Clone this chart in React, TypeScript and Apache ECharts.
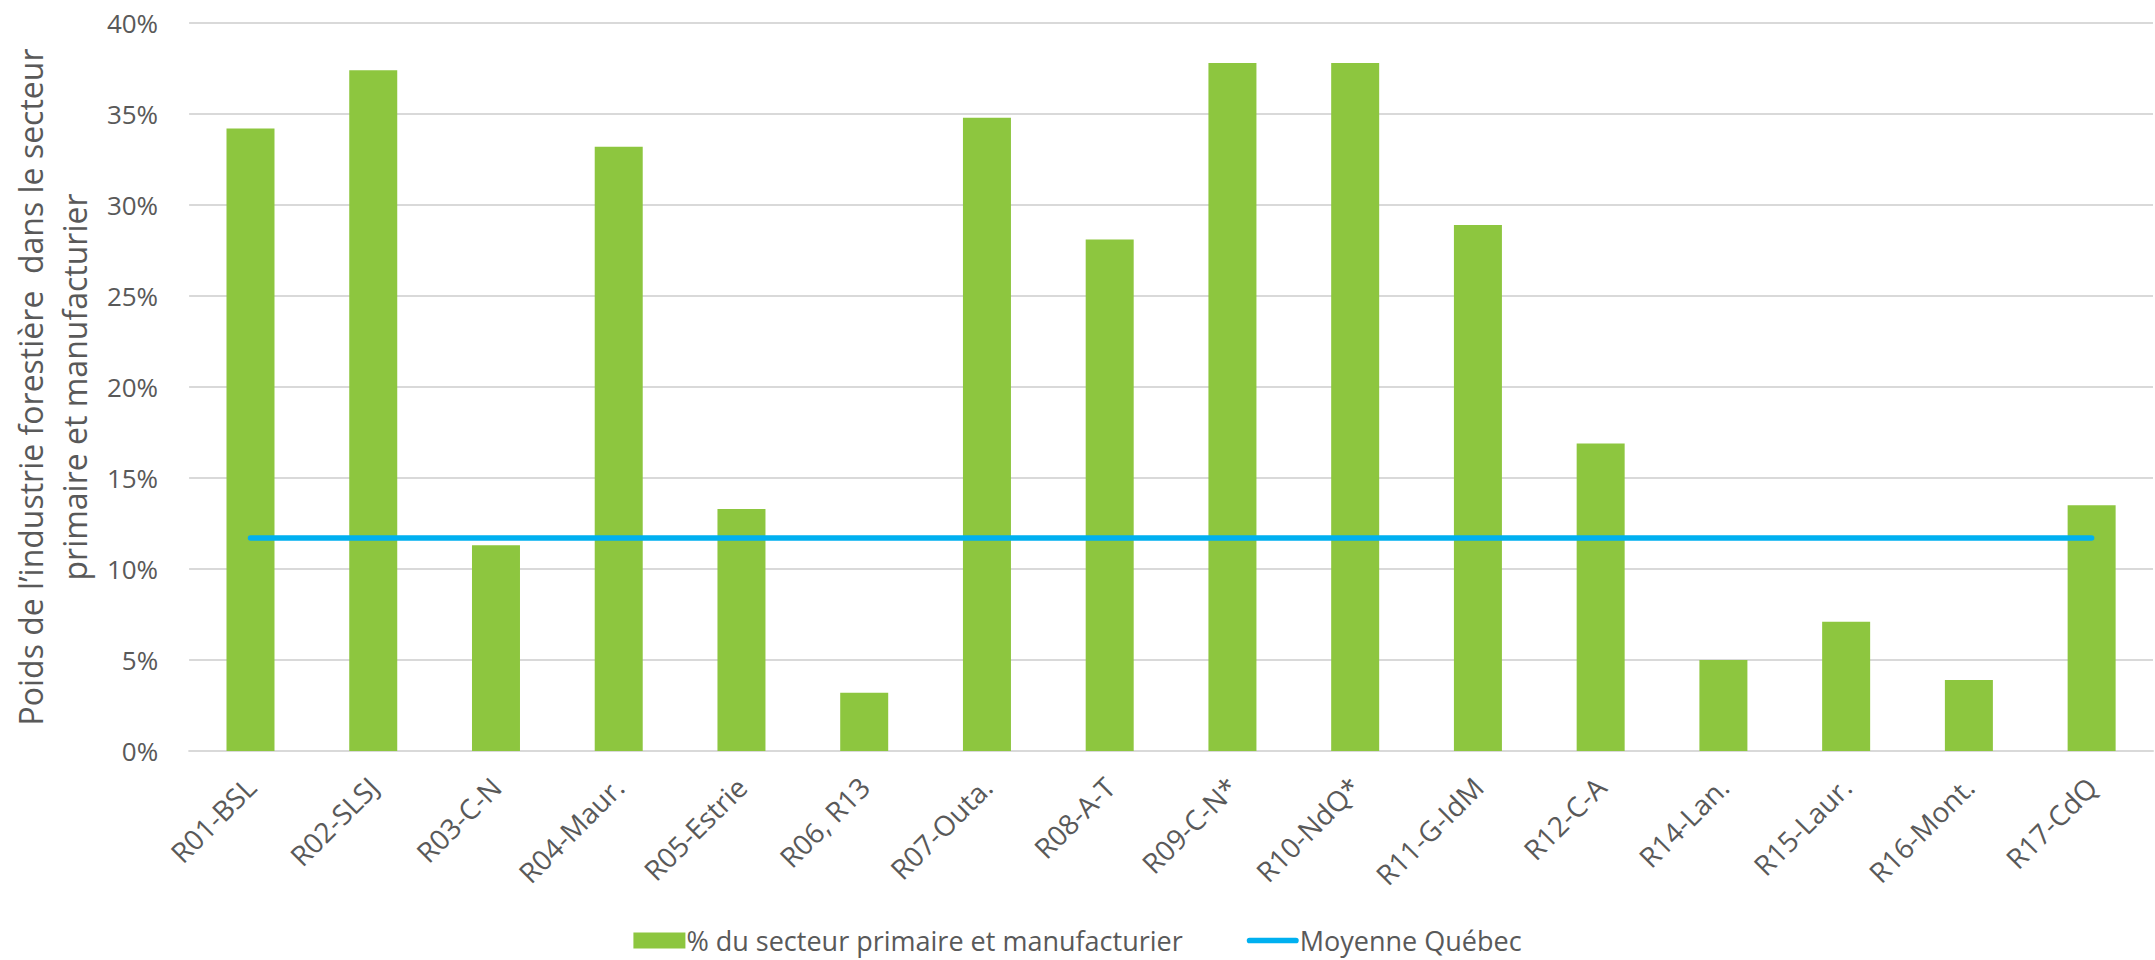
import React, { useEffect, useRef } from "react";
import * as echarts from "echarts";

const categories = [
  "R01-BSL", "R02-SLSJ", "R03-C-N", "R04-Maur.", "R05-Estrie", "R06, R13",
  "R07-Outa.", "R08-A-T", "R09-C-N*", "R10-NdQ*", "R11-G-IdM", "R12-C-A",
  "R14-Lan.", "R15-Laur.", "R16-Mont.", "R17-CdQ",
];
const sectorShare = [
  34.2, 37.4, 11.3, 33.2, 13.3, 3.2, 34.8, 28.1, 37.8, 37.8, 28.9, 16.9,
  5.0, 7.1, 3.9, 13.5,
];
const quebecAverage = [
  11.7, 11.7, 11.7, 11.7, 11.7, 11.7, 11.7, 11.7, 11.7, 11.7, 11.7, 11.7,
  11.7, 11.7, 11.7, 11.7,
];
const barName = "% du secteur primaire et manufacturier";
const lineName = "Moyenne Québec";
const yAxisTitle = "Poids de l’industrie forestière  dans le secteur\nprimaire et manufacturier";

const FONT = "'Open Sans', 'DejaVu Sans', sans-serif";
const TEXT = "#595959";

export default function App() {
  const ref = useRef<HTMLDivElement>(null);
  useEffect(() => {
    document.body.style.margin = "0";
    if (!ref.current) return;
    const chart = echarts.init(ref.current, null, { renderer: "svg" });
    chart.setOption({
      animation: false,
      backgroundColor: "#ffffff",
      textStyle: { fontFamily: FONT, color: TEXT },
      grid: { left: 188, right: 2, top: 23, bottom: 209, containLabel: false },
      legend: {
        top: 922,
        left: "center",
        itemWidth: 52,
        itemHeight: 16,
        itemGap: 64,
        textStyle: { fontFamily: FONT, fontSize: 27, lineHeight: 27, color: TEXT, padding: [0, 0, 0, -4] },
        data: [
          { name: barName, icon: "rect" },
          {
            name: lineName,
            icon: "path://M3,0 L52,0 A3,3 0 0 1 52,6 L3,6 A3,3 0 0 1 3,0 Z",
          },
        ],
      },
      xAxis: {
        type: "category",
        data: categories,
        axisLine: { lineStyle: { color: "#D9D9D9", width: 2 } },
        axisTick: { show: false },
        axisLabel: {
          rotate: 45,
          interval: 0,
          margin: 31,
          verticalAlign: "middle",
          fontFamily: FONT,
          fontSize: 28,
          color: TEXT,
        },
      },
      yAxis: {
        type: "value",
        min: 0,
        max: 40,
        interval: 5,
        name: yAxisTitle,
        nameLocation: "middle",
        nameRotate: 90,
        nameGap: 91,
        nameTextStyle: { fontFamily: FONT, fontSize: 32, color: TEXT, lineHeight: 44, align: "center" },
        axisLine: { show: false },
        axisTick: { show: false },
        splitLine: { lineStyle: { color: "#D9D9D9", width: 2 } },
        axisLabel: {
          formatter: "{value}%",
          margin: 31,
          fontFamily: FONT,
          fontSize: 26,
          color: TEXT,
        },
      },
      series: [
        {
          name: barName,
          type: "bar",
          data: sectorShare,
          barWidth: 48,
          itemStyle: { color: "#8DC63F" },
        },
        {
          name: lineName,
          type: "line",
          data: quebecAverage,
          symbol: "none",
          lineStyle: { color: "#00B0F0", width: 5.5, cap: "round" },
          itemStyle: { color: "#00B0F0" },
        },
      ],
    });
    return () => chart.dispose();
  }, []);
  return <div ref={ref} style={{ width: 2155, height: 960 }} />;
}
